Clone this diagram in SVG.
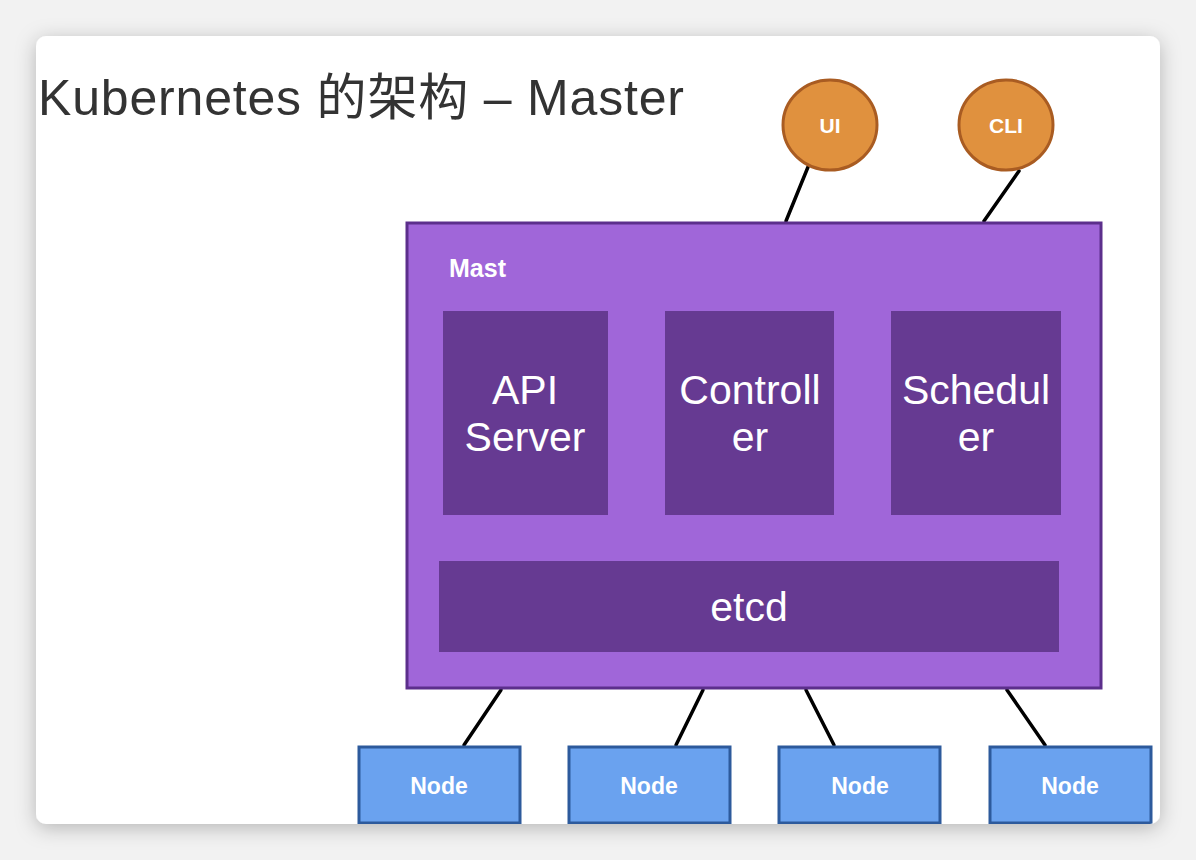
<svg xmlns="http://www.w3.org/2000/svg" width="1196" height="860" viewBox="0 0 1196 860">
  <defs>
    <filter id="shadow" x="-10%" y="-10%" width="120%" height="120%">
      <feDropShadow dx="0" dy="4" stdDeviation="10" flood-color="#000" flood-opacity="0.25"/>
    </filter>
    <clipPath id="cardClip">
      <rect x="36" y="36" width="1124" height="788" rx="10"/>
    </clipPath>
    <style>
      .conn { stroke:#000; stroke-width:3.5; fill:none; stroke-linecap:round; }
      .client { fill:#e0913e; stroke:#a95c22; stroke-width:3; }
      .clientText { font-family:"Liberation Sans", Arial, sans-serif; font-weight:bold; font-size:21px; fill:#fff; text-anchor:middle; }
      .master { fill:#a066d9; stroke:#5c2f8c; stroke-width:3; }
      .comp { fill:#663a92; }
      .compText { font-family:"Liberation Sans", Arial, sans-serif; font-size:41px; fill:#fff; text-anchor:middle; }
      .node { fill:#6aa2ef; stroke:#2d5a9c; stroke-width:3; }
      .nodeText { font-family:"Liberation Sans", Arial, sans-serif; font-weight:bold; font-size:23px; fill:#fff; text-anchor:middle; }
    </style>
  </defs>
  <rect x="0" y="0" width="1196" height="860" fill="#f2f2f2"/>
  <rect x="36" y="36" width="1124" height="788" rx="10" fill="#fff" filter="url(#shadow)"/>
  <g clip-path="url(#cardClip)">
    <text x="38" y="115" font-family="'Liberation Sans', 'Noto Sans CJK SC', sans-serif" font-size="50" fill="#333" textLength="646" lengthAdjust="spacing">Kubernetes 的架构 – Master</text>

    <g id="connectors">
      <line class="conn" x1="808" y1="167" x2="786" y2="221"/>
      <line class="conn" x1="1019" y1="171" x2="984" y2="221"/>
      <line class="conn" x1="501" y1="690" x2="464" y2="745"/>
      <line class="conn" x1="703" y1="690" x2="676" y2="745"/>
      <line class="conn" x1="806" y1="690" x2="834" y2="745"/>
      <line class="conn" x1="1007" y1="690" x2="1045" y2="745"/>
    </g>

    <g id="ui">
      <ellipse class="client" cx="830" cy="125" rx="47" ry="45"/>
      <text class="clientText" x="830" y="133">UI</text>
    </g>
    <g id="cli">
      <ellipse class="client" cx="1006" cy="125" rx="47" ry="45"/>
      <text class="clientText" x="1006" y="133">CLI</text>
    </g>

    <g id="master">
      <rect class="master" x="407" y="223" width="694" height="465"/>
      <text x="449" y="277" font-family="'Liberation Sans', Arial, sans-serif" font-weight="bold" font-size="25" fill="#fff">Mast</text>
    </g>
    <g id="api-server">
      <rect class="comp" x="443" y="311" width="165" height="204"/>
      <text class="compText" x="525" y="404">API</text>
      <text class="compText" x="525" y="451">Server</text>
    </g>
    <g id="controller">
      <rect class="comp" x="665" y="311" width="169" height="204"/>
      <text class="compText" x="750" y="404">Controll</text>
      <text class="compText" x="750" y="451">er</text>
    </g>
    <g id="scheduler">
      <rect class="comp" x="891" y="311" width="170" height="204"/>
      <text class="compText" x="976" y="404">Schedul</text>
      <text class="compText" x="976" y="451">er</text>
    </g>
    <g id="etcd">
      <rect class="comp" x="439" y="561" width="620" height="91"/>
      <text class="compText" x="749" y="621">etcd</text>
    </g>

    <g id="node1">
      <rect class="node" x="359" y="747" width="161" height="76"/>
      <text class="nodeText" x="439" y="794">Node</text>
    </g>
    <g id="node2">
      <rect class="node" x="569" y="747" width="161" height="76"/>
      <text class="nodeText" x="649" y="794">Node</text>
    </g>
    <g id="node3">
      <rect class="node" x="779" y="747" width="161" height="76"/>
      <text class="nodeText" x="860" y="794">Node</text>
    </g>
    <g id="node4">
      <rect class="node" x="990" y="747" width="161" height="76"/>
      <text class="nodeText" x="1070" y="794">Node</text>
    </g>
  </g>
</svg>
